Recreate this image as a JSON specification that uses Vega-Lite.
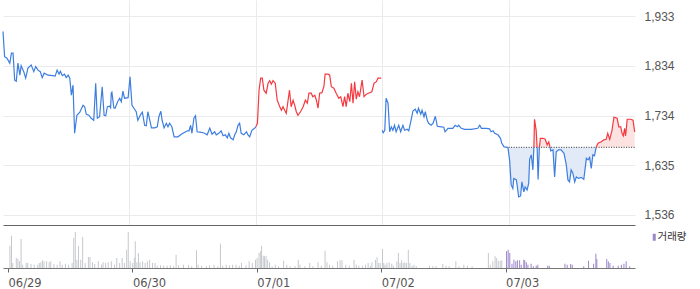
{
  "$schema": "https://vega.github.io/schema/vega-lite/v6.json",
  "padding": 0,
  "spacing": 0,
  "bounds": "flush",
  "config": {"view": {"stroke": null}, "axis": {"gridColor": "#ebebeb"}},
  "datasets": {
    "ref": [{"t": 1560, "t2": 1950, "p": 1671}],
    "fillrows": [
      {"t":1558,"p":1671,"b":1671,"seg":"d5a","dir":"dn"},{"t":1563,"p":1646,"b":1671,"seg":"d5a","dir":"dn"},{"t":1568,"p":1596,"b":1671,"seg":"d5a","dir":"dn"},{"t":1573,"p":1589,"b":1671,"seg":"d5a","dir":"dn"},{"t":1576,"p":1609,"b":1671,"seg":"d5a","dir":"dn"},{"t":1584,"p":1606,"b":1671,"seg":"d5a","dir":"dn"},{"t":1587,"p":1592,"b":1671,"seg":"d5a","dir":"dn"},{"t":1591,"p":1572,"b":1671,"seg":"d5a","dir":"dn"},{"t":1597,"p":1574,"b":1671,"seg":"d5a","dir":"dn"},{"t":1601,"p":1602,"b":1671,"seg":"d5a","dir":"dn"},{"t":1607,"p":1582,"b":1671,"seg":"d5a","dir":"dn"},{"t":1611,"p":1592,"b":1671,"seg":"d5a","dir":"dn"},{"t":1617,"p":1586,"b":1671,"seg":"d5a","dir":"dn"},{"t":1622,"p":1599,"b":1671,"seg":"d5a","dir":"dn"},{"t":1625,"p":1647,"b":1671,"seg":"d5a","dir":"dn"},{"t":1630,"p":1656,"b":1671,"seg":"d5a","dir":"dn"},{"t":1635,"p":1626,"b":1671,"seg":"d5a","dir":"dn"},{"t":1638,"p":1671,"b":1671,"seg":"d5a","dir":"dn"},
      {"t":1638,"p":1671,"b":1671,"seg":"d5b","dir":"up"},{"t":1640,"p":1727,"b":1671,"seg":"d5b","dir":"up"},{"t":1645,"p":1705,"b":1671,"seg":"d5b","dir":"up"},{"t":1648,"p":1671,"b":1671,"seg":"d5b","dir":"up"},
      {"t":1648,"p":1671,"b":1671,"seg":"d5c","dir":"dn"},{"t":1651,"p":1607,"b":1671,"seg":"d5c","dir":"dn"},{"t":1655,"p":1671,"b":1671,"seg":"d5c","dir":"dn"},
      {"t":1655,"p":1671,"b":1671,"seg":"d5d","dir":"up"},{"t":1658,"p":1689,"b":1671,"seg":"d5d","dir":"up"},{"t":1666,"p":1689,"b":1671,"seg":"d5d","dir":"up"},{"t":1673,"p":1687,"b":1671,"seg":"d5d","dir":"up"},{"t":1679,"p":1676,"b":1671,"seg":"d5d","dir":"up"},{"t":1684,"p":1682,"b":1671,"seg":"d5d","dir":"up"},{"t":1688,"p":1671,"b":1671,"seg":"d5d","dir":"up"},
      {"t":1688,"p":1671,"b":1671,"seg":"d5e","dir":"dn"},{"t":1690,"p":1664,"b":1671,"seg":"d5e","dir":"dn"},{"t":1697,"p":1666,"b":1671,"seg":"d5e","dir":"dn"},{"t":1702,"p":1612,"b":1671,"seg":"d5e","dir":"dn"},{"t":1707,"p":1662,"b":1671,"seg":"d5e","dir":"dn"},{"t":1714,"p":1666,"b":1671,"seg":"d5e","dir":"dn"},{"t":1722,"p":1666,"b":1671,"seg":"d5e","dir":"dn"},{"t":1731,"p":1659,"b":1671,"seg":"d5e","dir":"dn"},{"t":1738,"p":1636,"b":1671,"seg":"d5e","dir":"dn"},{"t":1743,"p":1606,"b":1671,"seg":"d5e","dir":"dn"},{"t":1748,"p":1602,"b":1671,"seg":"d5e","dir":"dn"},{"t":1753,"p":1626,"b":1671,"seg":"d5e","dir":"dn"},{"t":1758,"p":1620,"b":1671,"seg":"d5e","dir":"dn"},{"t":1764,"p":1602,"b":1671,"seg":"d5e","dir":"dn"},{"t":1769,"p":1612,"b":1671,"seg":"d5e","dir":"dn"},{"t":1776,"p":1609,"b":1671,"seg":"d5e","dir":"dn"},{"t":1784,"p":1611,"b":1671,"seg":"d5e","dir":"dn"},{"t":1792,"p":1607,"b":1671,"seg":"d5e","dir":"dn"},{"t":1800,"p":1649,"b":1671,"seg":"d5e","dir":"dn"},{"t":1805,"p":1646,"b":1671,"seg":"d5e","dir":"dn"},{"t":1810,"p":1651,"b":1671,"seg":"d5e","dir":"dn"},{"t":1815,"p":1629,"b":1671,"seg":"d5e","dir":"dn"},{"t":1820,"p":1656,"b":1671,"seg":"d5e","dir":"dn"},{"t":1825,"p":1654,"b":1671,"seg":"d5e","dir":"dn"},{"t":1830,"p":1671,"b":1671,"seg":"d5e","dir":"dn"},
      {"t":1830,"p":1671,"b":1671,"seg":"d5f","dir":"up"},{"t":1836,"p":1679,"b":1671,"seg":"d5f","dir":"up"},{"t":1846,"p":1682,"b":1671,"seg":"d5f","dir":"up"},{"t":1854,"p":1686,"b":1671,"seg":"d5f","dir":"up"},{"t":1861,"p":1687,"b":1671,"seg":"d5f","dir":"up"},{"t":1866,"p":1699,"b":1671,"seg":"d5f","dir":"up"},{"t":1872,"p":1687,"b":1671,"seg":"d5f","dir":"up"},{"t":1879,"p":1705,"b":1671,"seg":"d5f","dir":"up"},{"t":1885,"p":1731,"b":1671,"seg":"d5f","dir":"up"},{"t":1895,"p":1729,"b":1671,"seg":"d5f","dir":"up"},{"t":1900,"p":1712,"b":1671,"seg":"d5f","dir":"up"},{"t":1906,"p":1712,"b":1671,"seg":"d5f","dir":"up"},{"t":1910,"p":1699,"b":1671,"seg":"d5f","dir":"up"},{"t":1914,"p":1694,"b":1671,"seg":"d5f","dir":"up"},{"t":1918,"p":1709,"b":1671,"seg":"d5f","dir":"up"},{"t":1921,"p":1694,"b":1671,"seg":"d5f","dir":"up"},{"t":1926,"p":1727,"b":1671,"seg":"d5f","dir":"up"},{"t":1936,"p":1727,"b":1671,"seg":"d5f","dir":"up"},{"t":1944,"p":1725,"b":1671,"seg":"d5f","dir":"up"},{"t":1949,"p":1702,"b":1671,"seg":"d5f","dir":"up"}
    ],
    "price": [
      {"t":0,"p":1902,"seg":"a","dir":"dn"},{"t":5,"p":1852,"seg":"a","dir":"dn"},{"t":12,"p":1849,"seg":"a","dir":"dn"},{"t":21,"p":1839,"seg":"a","dir":"dn"},{"t":26,"p":1859,"seg":"a","dir":"dn"},{"t":31,"p":1859,"seg":"a","dir":"dn"},{"t":36,"p":1805,"seg":"a","dir":"dn"},{"t":41,"p":1803,"seg":"a","dir":"dn"},{"t":46,"p":1839,"seg":"a","dir":"dn"},{"t":52,"p":1815,"seg":"a","dir":"dn"},{"t":56,"p":1834,"seg":"a","dir":"dn"},{"t":64,"p":1822,"seg":"a","dir":"dn"},{"t":70,"p":1809,"seg":"a","dir":"dn"},{"t":77,"p":1829,"seg":"a","dir":"dn"},{"t":87,"p":1835,"seg":"a","dir":"dn"},{"t":95,"p":1822,"seg":"a","dir":"dn"},{"t":101,"p":1832,"seg":"a","dir":"dn"},{"t":108,"p":1825,"seg":"a","dir":"dn"},{"t":115,"p":1822,"seg":"a","dir":"dn"},{"t":121,"p":1810,"seg":"a","dir":"dn"},{"t":127,"p":1819,"seg":"a","dir":"dn"},{"t":139,"p":1815,"seg":"a","dir":"dn"},{"t":154,"p":1814,"seg":"a","dir":"dn"},{"t":161,"p":1813,"seg":"a","dir":"dn"},{"t":167,"p":1825,"seg":"a","dir":"dn"},{"t":173,"p":1817,"seg":"a","dir":"dn"},{"t":177,"p":1823,"seg":"a","dir":"dn"},{"t":183,"p":1814,"seg":"a","dir":"dn"},{"t":190,"p":1817,"seg":"a","dir":"dn"},{"t":195,"p":1810,"seg":"a","dir":"dn"},{"t":201,"p":1815,"seg":"a","dir":"dn"},{"t":206,"p":1809,"seg":"a","dir":"dn"},{"t":211,"p":1775,"seg":"a","dir":"dn"},{"t":216,"p":1795,"seg":"a","dir":"dn"},{"t":221,"p":1699,"seg":"a","dir":"dn"},{"t":228,"p":1735,"seg":"a","dir":"dn"},{"t":237,"p":1741,"seg":"a","dir":"dn"},{"t":247,"p":1755,"seg":"a","dir":"dn"},{"t":252,"p":1752,"seg":"a","dir":"dn"},{"t":257,"p":1737,"seg":"a","dir":"dn"},{"t":265,"p":1735,"seg":"a","dir":"dn"},{"t":272,"p":1729,"seg":"a","dir":"dn"},{"t":280,"p":1725,"seg":"a","dir":"dn"},{"t":286,"p":1799,"seg":"a","dir":"dn"},{"t":291,"p":1729,"seg":"a","dir":"dn"},{"t":298,"p":1732,"seg":"a","dir":"dn"},{"t":306,"p":1792,"seg":"a","dir":"dn"},{"t":312,"p":1735,"seg":"a","dir":"dn"},{"t":317,"p":1734,"seg":"a","dir":"dn"},{"t":322,"p":1752,"seg":"a","dir":"dn"},{"t":329,"p":1753,"seg":"a","dir":"dn"},{"t":332,"p":1750,"seg":"a","dir":"dn"},{"t":334,"p":1779,"seg":"a","dir":"dn"},{"t":336,"p":1781,"seg":"a","dir":"dn"},{"t":342,"p":1750,"seg":"a","dir":"dn"},{"t":346,"p":1749,"seg":"a","dir":"dn"},{"t":353,"p":1761,"seg":"a","dir":"dn"},{"t":360,"p":1769,"seg":"a","dir":"dn"},{"t":365,"p":1762,"seg":"a","dir":"dn"},{"t":370,"p":1783,"seg":"a","dir":"dn"},{"t":375,"p":1769,"seg":"a","dir":"dn"},{"t":386,"p":1770,"seg":"a","dir":"dn"},{"t":392,"p":1812,"seg":"a","dir":"dn"},{"t":398,"p":1755,"seg":"a","dir":"dn"},{"t":404,"p":1749,"seg":"a","dir":"dn"},{"t":411,"p":1742,"seg":"a","dir":"dn"},{"t":416,"p":1725,"seg":"a","dir":"dn"},{"t":425,"p":1737,"seg":"a","dir":"dn"},{"t":430,"p":1741,"seg":"a","dir":"dn"},{"t":437,"p":1715,"seg":"a","dir":"dn"},{"t":442,"p":1714,"seg":"a","dir":"dn"},{"t":447,"p":1742,"seg":"a","dir":"dn"},{"t":453,"p":1725,"seg":"a","dir":"dn"},{"t":458,"p":1710,"seg":"a","dir":"dn"},{"t":468,"p":1710,"seg":"a","dir":"dn"},{"t":476,"p":1712,"seg":"a","dir":"dn"},{"t":481,"p":1732,"seg":"a","dir":"dn"},{"t":487,"p":1743,"seg":"a","dir":"dn"},{"t":491,"p":1725,"seg":"a","dir":"dn"},{"t":497,"p":1710,"seg":"a","dir":"dn"},{"t":504,"p":1719,"seg":"a","dir":"dn"},{"t":509,"p":1712,"seg":"a","dir":"dn"},{"t":514,"p":1719,"seg":"a","dir":"dn"},{"t":521,"p":1712,"seg":"a","dir":"dn"},{"t":528,"p":1692,"seg":"a","dir":"dn"},{"t":540,"p":1692,"seg":"a","dir":"dn"},{"t":550,"p":1697,"seg":"a","dir":"dn"},{"t":561,"p":1701,"seg":"a","dir":"dn"},{"t":569,"p":1704,"seg":"a","dir":"dn"},{"t":574,"p":1704,"seg":"a","dir":"dn"},{"t":579,"p":1715,"seg":"a","dir":"dn"},{"t":583,"p":1699,"seg":"a","dir":"dn"},{"t":589,"p":1729,"seg":"a","dir":"dn"},{"t":594,"p":1734,"seg":"a","dir":"dn"},{"t":599,"p":1702,"seg":"a","dir":"dn"},{"t":612,"p":1701,"seg":"a","dir":"dn"},{"t":622,"p":1699,"seg":"a","dir":"dn"},{"t":630,"p":1696,"seg":"a","dir":"dn"},{"t":638,"p":1709,"seg":"a","dir":"dn"},{"t":645,"p":1697,"seg":"a","dir":"dn"},{"t":653,"p":1702,"seg":"a","dir":"dn"},{"t":658,"p":1696,"seg":"a","dir":"dn"},{"t":666,"p":1699,"seg":"a","dir":"dn"},{"t":673,"p":1704,"seg":"a","dir":"dn"},{"t":679,"p":1694,"seg":"a","dir":"dn"},{"t":686,"p":1696,"seg":"a","dir":"dn"},{"t":692,"p":1690,"seg":"a","dir":"dn"},{"t":697,"p":1699,"seg":"a","dir":"dn"},{"t":702,"p":1690,"seg":"a","dir":"dn"},{"t":710,"p":1686,"seg":"a","dir":"dn"},{"t":715,"p":1696,"seg":"a","dir":"dn"},{"t":720,"p":1702,"seg":"a","dir":"dn"},{"t":725,"p":1715,"seg":"a","dir":"dn"},{"t":730,"p":1719,"seg":"a","dir":"dn"},{"t":735,"p":1699,"seg":"a","dir":"dn"},{"t":743,"p":1696,"seg":"a","dir":"dn"},{"t":751,"p":1702,"seg":"a","dir":"dn"},{"t":756,"p":1696,"seg":"a","dir":"dn"},{"t":761,"p":1692,"seg":"a","dir":"dn"},{"t":768,"p":1705,"seg":"a","dir":"dn"},{"t":776,"p":1709,"seg":"a","dir":"dn"},{"t":780,"p":1712,"seg":"a","dir":"dn"},
      {"t":780,"p":1712,"seg":"b","dir":"up"},{"t":785,"p":1719,"seg":"b","dir":"up"},{"t":790,"p":1785,"seg":"b","dir":"up"},{"t":795,"p":1809,"seg":"b","dir":"up"},{"t":800,"p":1809,"seg":"b","dir":"up"},{"t":805,"p":1785,"seg":"b","dir":"up"},{"t":812,"p":1779,"seg":"b","dir":"up"},{"t":818,"p":1799,"seg":"b","dir":"up"},{"t":823,"p":1804,"seg":"b","dir":"up"},{"t":828,"p":1797,"seg":"b","dir":"up"},{"t":833,"p":1804,"seg":"b","dir":"up"},{"t":840,"p":1799,"seg":"b","dir":"up"},{"t":846,"p":1765,"seg":"b","dir":"up"},{"t":854,"p":1752,"seg":"b","dir":"up"},{"t":859,"p":1745,"seg":"b","dir":"up"},{"t":864,"p":1752,"seg":"b","dir":"up"},{"t":869,"p":1745,"seg":"b","dir":"up"},{"t":874,"p":1739,"seg":"b","dir":"up"},{"t":879,"p":1762,"seg":"b","dir":"up"},{"t":884,"p":1785,"seg":"b","dir":"up"},{"t":889,"p":1752,"seg":"b","dir":"up"},{"t":895,"p":1765,"seg":"b","dir":"up"},{"t":900,"p":1755,"seg":"b","dir":"up"},{"t":905,"p":1742,"seg":"b","dir":"up"},{"t":910,"p":1735,"seg":"b","dir":"up"},{"t":918,"p":1742,"seg":"b","dir":"up"},{"t":926,"p":1752,"seg":"b","dir":"up"},{"t":933,"p":1765,"seg":"b","dir":"up"},{"t":939,"p":1759,"seg":"b","dir":"up"},{"t":944,"p":1779,"seg":"b","dir":"up"},{"t":951,"p":1779,"seg":"b","dir":"up"},{"t":956,"p":1772,"seg":"b","dir":"up"},{"t":962,"p":1775,"seg":"b","dir":"up"},{"t":967,"p":1765,"seg":"b","dir":"up"},{"t":972,"p":1749,"seg":"b","dir":"up"},{"t":977,"p":1779,"seg":"b","dir":"up"},{"t":984,"p":1780,"seg":"b","dir":"up"},{"t":990,"p":1792,"seg":"b","dir":"up"},{"t":994,"p":1817,"seg":"b","dir":"up"},{"t":1003,"p":1817,"seg":"b","dir":"up"},{"t":1008,"p":1815,"seg":"b","dir":"up"},{"t":1013,"p":1792,"seg":"b","dir":"up"},{"t":1021,"p":1789,"seg":"b","dir":"up"},{"t":1028,"p":1779,"seg":"b","dir":"up"},{"t":1036,"p":1769,"seg":"b","dir":"up"},{"t":1042,"p":1772,"seg":"b","dir":"up"},{"t":1049,"p":1752,"seg":"b","dir":"up"},{"t":1054,"p":1772,"seg":"b","dir":"up"},{"t":1059,"p":1752,"seg":"b","dir":"up"},{"t":1064,"p":1779,"seg":"b","dir":"up"},{"t":1070,"p":1762,"seg":"b","dir":"up"},{"t":1075,"p":1799,"seg":"b","dir":"up"},{"t":1080,"p":1759,"seg":"b","dir":"up"},{"t":1085,"p":1802,"seg":"b","dir":"up"},{"t":1090,"p":1767,"seg":"b","dir":"up"},{"t":1095,"p":1782,"seg":"b","dir":"up"},{"t":1100,"p":1772,"seg":"b","dir":"up"},{"t":1108,"p":1805,"seg":"b","dir":"up"},{"t":1114,"p":1772,"seg":"b","dir":"up"},{"t":1121,"p":1777,"seg":"b","dir":"up"},{"t":1131,"p":1780,"seg":"b","dir":"up"},{"t":1138,"p":1782,"seg":"b","dir":"up"},{"t":1145,"p":1799,"seg":"b","dir":"up"},{"t":1152,"p":1802,"seg":"b","dir":"up"},{"t":1157,"p":1809,"seg":"b","dir":"up"},{"t":1167,"p":1809,"seg":"b","dir":"up"},
      {"t":1170,"p":1705,"seg":"c","dir":"dn"},{"t":1173,"p":1700,"seg":"c","dir":"dn"},{"t":1178,"p":1705,"seg":"c","dir":"dn"},{"t":1182,"p":1769,"seg":"c","dir":"dn"},{"t":1188,"p":1759,"seg":"c","dir":"dn"},{"t":1193,"p":1702,"seg":"c","dir":"dn"},{"t":1198,"p":1712,"seg":"c","dir":"dn"},{"t":1203,"p":1705,"seg":"c","dir":"dn"},{"t":1208,"p":1715,"seg":"c","dir":"dn"},{"t":1213,"p":1702,"seg":"c","dir":"dn"},{"t":1221,"p":1715,"seg":"c","dir":"dn"},{"t":1227,"p":1702,"seg":"c","dir":"dn"},{"t":1234,"p":1715,"seg":"c","dir":"dn"},{"t":1239,"p":1705,"seg":"c","dir":"dn"},{"t":1247,"p":1707,"seg":"c","dir":"dn"},{"t":1252,"p":1704,"seg":"c","dir":"dn"},{"t":1258,"p":1722,"seg":"c","dir":"dn"},{"t":1265,"p":1744,"seg":"c","dir":"dn"},{"t":1272,"p":1747,"seg":"c","dir":"dn"},{"t":1278,"p":1739,"seg":"c","dir":"dn"},{"t":1282,"p":1749,"seg":"c","dir":"dn"},{"t":1289,"p":1737,"seg":"c","dir":"dn"},{"t":1293,"p":1745,"seg":"c","dir":"dn"},{"t":1299,"p":1732,"seg":"c","dir":"dn"},{"t":1303,"p":1742,"seg":"c","dir":"dn"},{"t":1309,"p":1725,"seg":"c","dir":"dn"},{"t":1313,"p":1719,"seg":"c","dir":"dn"},{"t":1321,"p":1715,"seg":"c","dir":"dn"},{"t":1327,"p":1719,"seg":"c","dir":"dn"},{"t":1334,"p":1733,"seg":"c","dir":"dn"},{"t":1340,"p":1713,"seg":"c","dir":"dn"},{"t":1352,"p":1712,"seg":"c","dir":"dn"},{"t":1360,"p":1711,"seg":"c","dir":"dn"},{"t":1364,"p":1702,"seg":"c","dir":"dn"},{"t":1373,"p":1709,"seg":"c","dir":"dn"},{"t":1388,"p":1709,"seg":"c","dir":"dn"},{"t":1395,"p":1715,"seg":"c","dir":"dn"},{"t":1402,"p":1712,"seg":"c","dir":"dn"},{"t":1406,"p":1715,"seg":"c","dir":"dn"},{"t":1414,"p":1709,"seg":"c","dir":"dn"},{"t":1424,"p":1707,"seg":"c","dir":"dn"},{"t":1445,"p":1707,"seg":"c","dir":"dn"},{"t":1465,"p":1709,"seg":"c","dir":"dn"},{"t":1471,"p":1715,"seg":"c","dir":"dn"},{"t":1476,"p":1709,"seg":"c","dir":"dn"},{"t":1491,"p":1709,"seg":"c","dir":"dn"},{"t":1501,"p":1708,"seg":"c","dir":"dn"},{"t":1506,"p":1702,"seg":"c","dir":"dn"},{"t":1512,"p":1704,"seg":"c","dir":"dn"},{"t":1517,"p":1699,"seg":"c","dir":"dn"},{"t":1527,"p":1696,"seg":"c","dir":"dn"},{"t":1535,"p":1689,"seg":"c","dir":"dn"},{"t":1539,"p":1679,"seg":"c","dir":"dn"},{"t":1546,"p":1672,"seg":"c","dir":"dn"},{"t":1558,"p":1671,"seg":"c","dir":"dn"},
      {"t":1558,"p":1671,"seg":"d5a","dir":"dn"},{"t":1563,"p":1646,"seg":"d5a","dir":"dn"},{"t":1568,"p":1596,"seg":"d5a","dir":"dn"},{"t":1573,"p":1589,"seg":"d5a","dir":"dn"},{"t":1576,"p":1609,"seg":"d5a","dir":"dn"},{"t":1584,"p":1606,"seg":"d5a","dir":"dn"},{"t":1587,"p":1592,"seg":"d5a","dir":"dn"},{"t":1591,"p":1572,"seg":"d5a","dir":"dn"},{"t":1597,"p":1574,"seg":"d5a","dir":"dn"},{"t":1601,"p":1602,"seg":"d5a","dir":"dn"},{"t":1607,"p":1582,"seg":"d5a","dir":"dn"},{"t":1611,"p":1592,"seg":"d5a","dir":"dn"},{"t":1617,"p":1586,"seg":"d5a","dir":"dn"},{"t":1622,"p":1599,"seg":"d5a","dir":"dn"},{"t":1625,"p":1647,"seg":"d5a","dir":"dn"},{"t":1630,"p":1656,"seg":"d5a","dir":"dn"},{"t":1635,"p":1626,"seg":"d5a","dir":"dn"},{"t":1638,"p":1671,"seg":"d5a","dir":"dn"},
      {"t":1638,"p":1671,"seg":"d5b","dir":"up"},{"t":1640,"p":1727,"seg":"d5b","dir":"up"},{"t":1645,"p":1705,"seg":"d5b","dir":"up"},{"t":1648,"p":1671,"seg":"d5b","dir":"up"},
      {"t":1648,"p":1671,"seg":"d5c","dir":"dn"},{"t":1651,"p":1607,"seg":"d5c","dir":"dn"},{"t":1655,"p":1671,"seg":"d5c","dir":"dn"},
      {"t":1655,"p":1671,"seg":"d5d","dir":"up"},{"t":1658,"p":1689,"seg":"d5d","dir":"up"},{"t":1666,"p":1689,"seg":"d5d","dir":"up"},{"t":1673,"p":1687,"seg":"d5d","dir":"up"},{"t":1679,"p":1676,"seg":"d5d","dir":"up"},{"t":1684,"p":1682,"seg":"d5d","dir":"up"},{"t":1688,"p":1671,"seg":"d5d","dir":"up"},
      {"t":1688,"p":1671,"seg":"d5e","dir":"dn"},{"t":1690,"p":1664,"seg":"d5e","dir":"dn"},{"t":1697,"p":1666,"seg":"d5e","dir":"dn"},{"t":1702,"p":1612,"seg":"d5e","dir":"dn"},{"t":1707,"p":1662,"seg":"d5e","dir":"dn"},{"t":1714,"p":1666,"seg":"d5e","dir":"dn"},{"t":1722,"p":1666,"seg":"d5e","dir":"dn"},{"t":1731,"p":1659,"seg":"d5e","dir":"dn"},{"t":1738,"p":1636,"seg":"d5e","dir":"dn"},{"t":1743,"p":1606,"seg":"d5e","dir":"dn"},{"t":1748,"p":1602,"seg":"d5e","dir":"dn"},{"t":1753,"p":1626,"seg":"d5e","dir":"dn"},{"t":1758,"p":1620,"seg":"d5e","dir":"dn"},{"t":1764,"p":1602,"seg":"d5e","dir":"dn"},{"t":1769,"p":1612,"seg":"d5e","dir":"dn"},{"t":1776,"p":1609,"seg":"d5e","dir":"dn"},{"t":1784,"p":1611,"seg":"d5e","dir":"dn"},{"t":1792,"p":1607,"seg":"d5e","dir":"dn"},{"t":1800,"p":1649,"seg":"d5e","dir":"dn"},{"t":1805,"p":1646,"seg":"d5e","dir":"dn"},{"t":1810,"p":1651,"seg":"d5e","dir":"dn"},{"t":1815,"p":1629,"seg":"d5e","dir":"dn"},{"t":1820,"p":1656,"seg":"d5e","dir":"dn"},{"t":1825,"p":1654,"seg":"d5e","dir":"dn"},{"t":1830,"p":1671,"seg":"d5e","dir":"dn"},
      {"t":1830,"p":1671,"seg":"d5f","dir":"up"},{"t":1836,"p":1679,"seg":"d5f","dir":"up"},{"t":1846,"p":1682,"seg":"d5f","dir":"up"},{"t":1854,"p":1686,"seg":"d5f","dir":"up"},{"t":1861,"p":1687,"seg":"d5f","dir":"up"},{"t":1866,"p":1699,"seg":"d5f","dir":"up"},{"t":1872,"p":1687,"seg":"d5f","dir":"up"},{"t":1879,"p":1705,"seg":"d5f","dir":"up"},{"t":1885,"p":1731,"seg":"d5f","dir":"up"},{"t":1895,"p":1729,"seg":"d5f","dir":"up"},{"t":1900,"p":1712,"seg":"d5f","dir":"up"},{"t":1906,"p":1712,"seg":"d5f","dir":"up"},{"t":1910,"p":1699,"seg":"d5f","dir":"up"},{"t":1914,"p":1694,"seg":"d5f","dir":"up"},{"t":1918,"p":1709,"seg":"d5f","dir":"up"},{"t":1921,"p":1694,"seg":"d5f","dir":"up"},{"t":1926,"p":1727,"seg":"d5f","dir":"up"},{"t":1936,"p":1727,"seg":"d5f","dir":"up"},{"t":1944,"p":1725,"seg":"d5f","dir":"up"},{"t":1949,"p":1702,"seg":"d5f","dir":"up"}
    ],
    "vol": [
      {"t":6,"v":22300},{"t":11,"v":32300},{"t":15,"v":5000},{"t":26,"v":10000},{"t":31,"v":9000},{"t":36,"v":6700},{"t":41,"v":29000},{"t":46,"v":3300},{"t":57,"v":5000},{"t":62,"v":5000},{"t":72,"v":4000},{"t":82,"v":3300},{"t":93,"v":3300},{"t":98,"v":5000},{"t":103,"v":5700},{"t":108,"v":7700},{"t":113,"v":6700},{"t":121,"v":6700},{"t":129,"v":5700},{"t":134,"v":6700},{"t":144,"v":4000},{"t":154,"v":3300},{"t":163,"v":6700},{"t":170,"v":3300},{"t":180,"v":4300},{"t":190,"v":3300},{"t":201,"v":5000},{"t":206,"v":30000},{"t":211,"v":36000},{"t":216,"v":8300},{"t":221,"v":22300},{"t":228,"v":8300},{"t":234,"v":31000},{"t":242,"v":5000},{"t":252,"v":11000},{"t":257,"v":11000},{"t":265,"v":5700},{"t":272,"v":4000},{"t":283,"v":6700},{"t":293,"v":3300},{"t":298,"v":5700},{"t":306,"v":5000},{"t":314,"v":5700},{"t":324,"v":6700},{"t":334,"v":3300},{"t":341,"v":10000},{"t":350,"v":5000},{"t":358,"v":10000},{"t":365,"v":5000},{"t":372,"v":18300},{"t":377,"v":36000},{"t":383,"v":6700},{"t":391,"v":5000},{"t":396,"v":10000},{"t":399,"v":26700},{"t":404,"v":5700},{"t":409,"v":15000},{"t":414,"v":5700},{"t":422,"v":6700},{"t":430,"v":5000},{"t":437,"v":6700},{"t":444,"v":8300},{"t":453,"v":5000},{"t":461,"v":5000},{"t":468,"v":2300},{"t":478,"v":2700},{"t":488,"v":2300},{"t":499,"v":2300},{"t":509,"v":2700},{"t":519,"v":1700},{"t":527,"v":13300},{"t":535,"v":2700},{"t":550,"v":3300},{"t":566,"v":3300},{"t":576,"v":1700},{"t":591,"v":17700},{"t":596,"v":3300},{"t":607,"v":2300},{"t":622,"v":1700},{"t":632,"v":2700},{"t":646,"v":3300},{"t":658,"v":1700},{"t":666,"v":24300},{"t":673,"v":2300},{"t":684,"v":3300},{"t":694,"v":2700},{"t":704,"v":3300},{"t":715,"v":3300},{"t":725,"v":2300},{"t":732,"v":5000},{"t":746,"v":2700},{"t":756,"v":6700},{"t":766,"v":5000},{"t":776,"v":8300},{"t":781,"v":10000},{"t":787,"v":15000},{"t":792,"v":16700},{"t":795,"v":22300},{"t":800,"v":12300},{"t":804,"v":11700},{"t":809,"v":12300},{"t":814,"v":8300},{"t":820,"v":5700},{"t":828,"v":1700},{"t":838,"v":3300},{"t":848,"v":1700},{"t":864,"v":7300},{"t":874,"v":3300},{"t":884,"v":1700},{"t":900,"v":1700},{"t":910,"v":8300},{"t":915,"v":3300},{"t":931,"v":1700},{"t":946,"v":5000},{"t":956,"v":1700},{"t":972,"v":5700},{"t":982,"v":2300},{"t":994,"v":17300},{"t":1000,"v":5700},{"t":1008,"v":3300},{"t":1018,"v":2300},{"t":1033,"v":6700},{"t":1041,"v":7700},{"t":1047,"v":7700},{"t":1059,"v":3300},{"t":1070,"v":2300},{"t":1085,"v":8300},{"t":1092,"v":3300},{"t":1100,"v":2300},{"t":1111,"v":2300},{"t":1121,"v":3300},{"t":1129,"v":5000},{"t":1136,"v":2300},{"t":1141,"v":5700},{"t":1152,"v":8300},{"t":1157,"v":10700},{"t":1162,"v":5000},{"t":1167,"v":5000},{"t":1174,"v":19000},{"t":1178,"v":5000},{"t":1182,"v":3300},{"t":1188,"v":5000},{"t":1195,"v":5700},{"t":1203,"v":4300},{"t":1208,"v":2300},{"t":1219,"v":6700},{"t":1224,"v":15000},{"t":1229,"v":5000},{"t":1234,"v":7700},{"t":1239,"v":5000},{"t":1244,"v":5700},{"t":1249,"v":5000},{"t":1255,"v":18300},{"t":1260,"v":5000},{"t":1267,"v":2300},{"t":1273,"v":3300},{"t":1280,"v":1700},{"t":1321,"v":2300},{"t":1332,"v":1700},{"t":1342,"v":1700},{"t":1363,"v":4000},{"t":1373,"v":2300},{"t":1383,"v":1700},{"t":1404,"v":6700},{"t":1414,"v":1700},{"t":1429,"v":3300},{"t":1440,"v":2300},{"t":1455,"v":1700},{"t":1506,"v":15000},{"t":1512,"v":3300},{"t":1520,"v":6700},{"t":1527,"v":11700},{"t":1532,"v":10000},{"t":1537,"v":7300},{"t":1543,"v":7300},{"t":1548,"v":7700},
      {"t":1563,"v":16700},{"t":1568,"v":18300},{"t":1573,"v":15000},{"t":1580,"v":4300},{"t":1586,"v":8300},{"t":1592,"v":6700},{"t":1597,"v":7700},{"t":1604,"v":7700},{"t":1609,"v":3300},{"t":1617,"v":8300},{"t":1620,"v":7700},{"t":1625,"v":5700},{"t":1630,"v":3300},{"t":1640,"v":4300},{"t":1647,"v":1700},{"t":1656,"v":2300},{"t":1661,"v":3300},{"t":1692,"v":2300},{"t":1697,"v":2300},{"t":1746,"v":4300},{"t":1753,"v":3300},{"t":1764,"v":4000},{"t":1769,"v":3300},{"t":1805,"v":1700},{"t":1820,"v":7300},{"t":1836,"v":4300},{"t":1843,"v":14300},{"t":1846,"v":9000},{"t":1877,"v":9000},{"t":1882,"v":6700},{"t":1887,"v":5000},{"t":1897,"v":2300},{"t":1913,"v":2300},{"t":1923,"v":3300},{"t":1931,"v":4300},{"t":1938,"v":6700},{"t":1949,"v":1700}
    ]
  },
  "vconcat": [
    {
      "width": 632,
      "height": 225,
      "encoding": {
        "x": {"field": "t", "type": "quantitative", "scale": {"domain": [0, 1950], "nice": false, "zero": false},
              "axis": {"values": [390, 780, 1170, 1560], "labels": false, "ticks": false, "domain": true, "domainColor": "#666", "grid": true, "title": null}},
        "y": {"field": "p", "type": "quantitative", "stack": null, "scale": {"domain": [1516, 1965], "nice": false, "zero": false},
              "axis": {"orient": "right", "values": [1536, 1635, 1734, 1834, 1933], "format": ",.0f", "labelPadding": 9, "ticks": false, "domain": false, "grid": true, "labelColor": "#555", "labelFontSize": 12, "labelFont": "Liberation Sans", "title": null}}
      },
      "layer": [
        {
          "data": {"name": "fillrows"},
          "transform": [{"filter": "datum.dir == 'dn'"}],
          "mark": {"type": "area", "color": "#e2eaf7", "opacity": 1},
          "encoding": {
            "y2": {"field": "b"},
            "detail": {"field": "seg", "type": "nominal"}
          }
        },
        {
          "data": {"name": "fillrows"},
          "transform": [{"filter": "datum.dir == 'up'"}],
          "mark": {"type": "area", "color": "#fde2e2", "opacity": 1},
          "encoding": {
            "y2": {"field": "b"},
            "detail": {"field": "seg", "type": "nominal"}
          }
        },
        {
          "data": {"name": "ref"},
          "mark": {"type": "rule", "strokeDash": [1, 1.5], "color": "#333", "strokeWidth": 1},
          "encoding": {
            "x2": {"field": "t2"}
          }
        },
        {
          "data": {"name": "price"},
          "mark": {"type": "line", "strokeWidth": 1.2},
          "encoding": {
            "stroke": {"field": "dir", "type": "nominal", "scale": {"domain": ["dn", "up"], "range": ["#3d7edf", "#f43a40"]}, "legend": null},
            "detail": {"field": "seg"},
            "order": {"field": "t", "type": "quantitative"}
          }
        }
      ]
    },
    {
      "width": 632,
      "height": 43,
      "data": {"name": "vol"},
      "encoding": {
        "x": {"field": "t", "type": "quantitative", "scale": {"domain": [0, 1950], "nice": false, "zero": false},
              "axis": {"values": [0, 390, 780, 1170, 1560], "labelExpr": "['06/29','06/30','07/01','07/02','07/03'][round(datum.value/390)]", "labelAlign": "left", "labelFlush": false, "labelPadding": 5, "tickSize": 4, "tickColor": "#666", "domainColor": "#777", "grid": false, "labelColor": "#555", "labelFontSize": 11.5, "labelFont": "DejaVu Sans", "title": null}},
        "y": {"field": "v", "type": "quantitative", "scale": {"domain": [0, 43000], "nice": false}, "axis": null}
      },
      "layer": [
        {
          "transform": [{"filter": "datum.t < 1560"}],
          "mark": {"type": "bar", "width": 1, "color": "#c5c8cd"}
        },
        {
          "transform": [{"filter": "datum.t >= 1560"}],
          "mark": {"type": "bar", "width": 1},
          "encoding": {
            "color": {"datum": "거래량", "type": "nominal", "scale": {"range": ["#9b86c9"]},
                      "legend": {"orient": "none", "legendX": 646, "legendY": 232, "title": null, "symbolType": "M-0.3,-0.7H0.3V0.7H-0.3Z", "symbolSize": 100, "symbolStrokeWidth": 0, "labelFont": "Noto Sans CJK KR", "labelFontSize": 10.5, "labelColor": "#333", "labelOffset": -2}}
          }
        }
      ]
    }
  ]
}
